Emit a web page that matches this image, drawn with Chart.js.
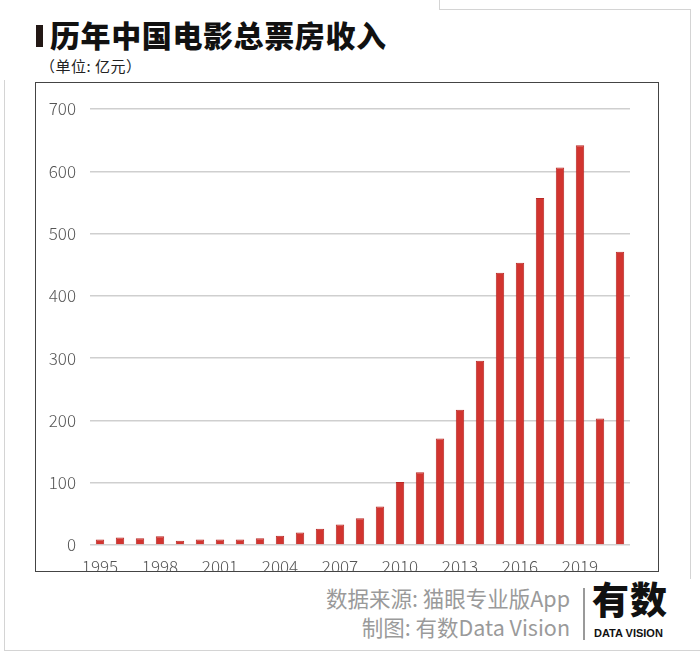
<!DOCTYPE html>
<html>
<head>
<meta charset="utf-8">
<script src="https://cdn.jsdelivr.net/npm/chart.js@4"></script>
<style>
  body { margin: 0; width: 700px; height: 656px; background: #fff; position: relative; overflow: hidden;
         font-family: "Noto Sans CJK SC", "Noto Sans", sans-serif; }
  .line { position: absolute; background: #d4d4d4; }
  #mark { position: absolute; left: 36px; top: 25px; width: 7px; height: 22px; background: #231815; }
  #title { position: absolute; left: 50px; top: 12px; font-size: 30px; font-weight: 900; color: #111; letter-spacing: 0.6px; }
  #unit { position: absolute; left: 40px; top: 55px; font-size: 15px; color: #222; letter-spacing: 0.5px; }
  #frame { position: absolute; left: 35px; top: 82px; width: 622px; height: 488px; border: 1.5px solid #444; }
  #wrap { position: absolute; left: 0; top: 0; width: 622px; height: 488px; }
  .src { position: absolute; right: 130px; font-size: 21.5px; color: #9a9a9a; white-space: nowrap; }
  #sep { position: absolute; left: 583px; top: 588px; width: 1.5px; height: 52px; background: #999; }
  #logo { position: absolute; left: 592px; top: 580px; font-size: 37px; font-weight: 900; color: #111; line-height: 1; letter-spacing: 1px; }
  #logo2 { position: absolute; left: 594px; top: 627px; font-family: "Liberation Sans", sans-serif; font-size: 11px; font-weight: 700; color: #111; }
</style>
</head>
<body>
<div class="line" style="left:439px;top:0;width:1px;height:9px"></div>
<div class="line" style="left:439px;top:9px;width:252px;height:1px"></div>
<div class="line" style="left:690px;top:9px;width:1px;height:570px"></div>
<div class="line" style="left:4px;top:80px;width:1px;height:571px"></div>
<div class="line" style="left:4px;top:650px;width:696px;height:1px"></div>

<div id="mark"></div>
<div id="title">历年中国电影总票房收入</div>
<div id="unit">（单位: 亿元）</div>
<div id="frame"><div id="wrap"><canvas id="boxOfficeChart"></canvas></div></div>
<div class="src" style="top:582px">数据来源: 猫眼专业版App</div>
<div class="src" style="top:611px">制图: 有数Data Vision</div>
<div id="sep"></div>
<div id="logo">有数</div>
<div id="logo2">DATA VISION</div>

<script>
// 年份与票房（亿元）
const years = ['1995', '1996', '1997', '1998', '1999', '2000', '2001', '2002', '2003',
    '2004', '2005', '2006', '2007', '2008', '2009', '2010', '2011', '2012', '2013',
    '2014', '2015', '2016', '2017', '2018', '2019', '2020', '2021'];
const boxOffice = [9, 12, 11, 14, 7, 9, 9, 9, 11,
    15, 20, 26, 33, 43, 62, 101, 117, 171, 217,
    296, 437, 453, 557, 606, 642, 203, 471];
const yTicks = [0, 100, 200, 300, 400, 500, 600, 700];

const ctx = document.getElementById('boxOfficeChart').getContext('2d');
new Chart(ctx, {
    type: 'bar',
    data: {
        labels: years,
        datasets: [{
            label: '总票房',
            data: boxOffice,
            backgroundColor: '#d2342f',
            borderColor: '#b82a26',
            borderWidth: 1,
            barPercentage: 0.42,
            categoryPercentage: 1
        }]
    },
    options: {
        responsive: true,
        maintainAspectRatio: false,
        animation: false,
        layout: { padding: { left: 0, top: 26, right: 28, bottom: 0 } },
        plugins: {
            legend: { display: false },
            tooltip: { enabled: false }
        },
        scales: {
            y: {
                min: 0,
                max: 700,
                afterBuildTicks: function (scale) {
                    scale.ticks = yTicks.map(v => ({ value: v }));
                },
                afterFit: function (scale) { scale.width = 54; },
                border: { display: false },
                grid: { color: '#cfcfcf', lineWidth: 1.5, drawTicks: false },
                ticks: {
                    padding: 14,
                    color: '#555',
                    font: { family: 'Noto Sans CJK SC', size: 17, weight: 300 }
                }
            },
            x: {
                afterFit: function (scale) { scale.height = 26; },
                border: { display: false },
                grid: { display: false },
                ticks: {
                    autoSkip: false,
                    maxRotation: 0,
                    padding: 3,
                    color: '#555',
                    font: { family: 'Noto Sans CJK SC', size: 17, weight: 300 },
                    callback: function (value, index) {
                        return index % 3 === 0 ? years[index] : '';
                    }
                }
            }
        }
    }
});
</script>
</body>
</html>
